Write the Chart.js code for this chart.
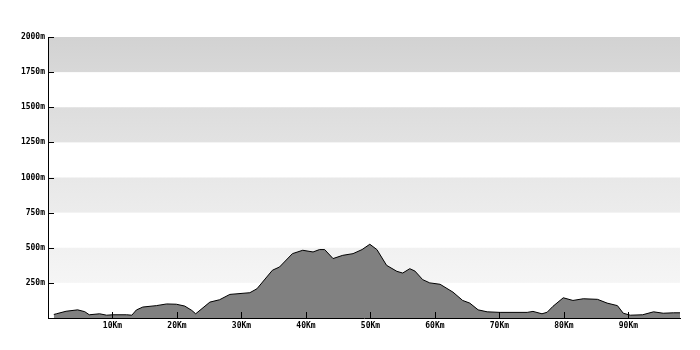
<!DOCTYPE html>
<html>
<head>
<meta charset="utf-8">
<script src="https://cdn.jsdelivr.net/npm/chart.js@4/dist/chart.umd.min.js"></script>
<style>
  html, body { margin: 0; padding: 0; background: #fff; }
  #wrap { width: 700px; height: 350px; }
</style>
</head>
<body>
<div id="wrap"><canvas id="profil"></canvas></div>
<script>
const distances = [0.9, 1.3, 2.8, 4.6, 5.7, 6.4, 8.0, 9.1, 10.0, 12.2, 13.0, 13.7, 14.7, 16.8, 18.4, 19.9,
  21.2, 22.3, 22.9, 25.1, 26.6, 28.2, 31.3, 32.4, 34.8, 35.9, 37.9, 39.5, 41.1, 42.1, 42.9, 44.2,
  45.7, 47.3, 48.7, 49.9, 51.0, 52.5, 54.1, 55.0, 56.1, 56.9, 58.1, 59.2, 60.8, 62.8, 64.3, 65.4,
  66.7, 68.1, 70.1, 74.3, 75.2, 76.6, 77.4, 78.3, 79.9, 81.4, 83.0, 85.2, 86.7, 88.3, 89.2, 90.3,
  92.2, 93.9, 95.4, 97.0, 98.0]
const altitudes = [25, 30, 48, 58, 45, 23, 30, 20, 23, 23, 20, 57, 78, 88, 100, 98,
  85, 54, 30, 113, 130, 168, 180, 208, 340, 363, 458, 482, 470, 487, 487, 423,
  446, 458, 487, 525, 487, 375, 332, 320, 351, 334, 273, 250, 240, 184, 125, 106,
  58, 44, 40, 40, 47, 30, 41, 83, 144, 125, 137, 133, 106, 88, 34, 20,
  23, 44, 34, 37, 37]

// graduations
const graduationsKm = [10, 20, 30, 40, 50, 60, 70, 80, 90]
const graduationsM = [250, 500, 750, 1000, 1250, 1500, 1750, 2000]

// bandes grises : [bas, haut]
const bandes = [[250, 500], [750, 1000], [1250, 1500], [1750, 2000]]
const couleursBandes = [["#f1f1f1", "#f5f5f5"], ["#e8e8e8", "#ececec"], ["#dddddd", "#e2e2e2"], ["#d2d2d2", "#d8d8d8"]]

let points = []
for (let i = 0; i < distances.length; i++) {
  points.push({x: distances[i], y: altitudes[i]})
}

const police = {family: "'DejaVu Sans Mono', monospace", size: 8, weight: "bold"}

// fond en bandes
const pluginBandes = {
  id: "bandes",
  beforeDatasetsDraw(chart) {
    const ctx = chart.ctx
    const y = chart.scales.y
    const zone = chart.chartArea
    ctx.save()
    for (let i = 0; i < bandes.length; i++) {
      const haut = y.getPixelForValue(bandes[i][1])
      const bas = y.getPixelForValue(bandes[i][0])
      const grad = ctx.createLinearGradient(0, haut, 0, bas)
      grad.addColorStop(0, couleursBandes[i][0])
      grad.addColorStop(1, couleursBandes[i][1])
      ctx.fillStyle = grad
      ctx.fillRect(zone.left + 1, haut, zone.right - zone.left - 1, bas - haut)
    }
    ctx.restore()
  }
}

// petits traits de graduation vers l'interieur
const pluginTraits = {
  id: "traits",
  afterDatasetsDraw(chart) {
    const ctx = chart.ctx
    const x = chart.scales.x
    const y = chart.scales.y
    ctx.save()
    ctx.strokeStyle = "#000"
    ctx.lineWidth = 1
    ctx.beginPath()
    graduationsM.forEach(v => {
      const py = Math.round(y.getPixelForValue(v)) + 0.5
      ctx.moveTo(y.right, py)
      ctx.lineTo(y.right + 6, py)
    })
    graduationsKm.forEach(v => {
      const px = Math.round(x.getPixelForValue(v)) + 0.5
      ctx.moveTo(px, x.top)
      ctx.lineTo(px, x.top - 6)
    })
    ctx.stroke()
    ctx.restore()
  }
}

new Chart(document.getElementById("profil"), {
  type: "line",
  data: {
    datasets: [{
      data: points,
      fill: "origin",
      backgroundColor: "#808080",
      borderColor: "#000",
      borderWidth: 1,
      pointRadius: 0,
      tension: 0
    }]
  },
  options: {
    responsive: true,
    maintainAspectRatio: false,
    animation: false,
    layout: {padding: {top: 37, right: 20, left: 0, bottom: 0}},
    plugins: {legend: {display: false}, tooltip: {enabled: false}},
    scales: {
      x: {
        type: "linear",
        min: 0,
        max: 98,
        afterFit: s => { s.height = 32 },
        grid: {display: false, drawTicks: false},
        border: {display: true, color: "#000", width: 1},
        ticks: {
          stepSize: 10,
          includeBounds: false,
          autoSkip: false,
          maxRotation: 0,
          padding: 3,
          color: "#000",
          font: police,
          callback: v => graduationsKm.includes(v) ? v + "Km" : ""
        }
      },
      y: {
        min: 0,
        max: 2000,
        afterFit: s => { s.width = 48 },
        grid: {display: false, drawTicks: false},
        border: {display: true, color: "#000", width: 1},
        ticks: {
          stepSize: 250,
          padding: 3,
          color: "#000",
          font: police,
          callback: v => graduationsM.includes(v) ? v + "m" : ""
        }
      }
    }
  },
  plugins: [pluginBandes, pluginTraits]
})
</script>
</body>
</html>
